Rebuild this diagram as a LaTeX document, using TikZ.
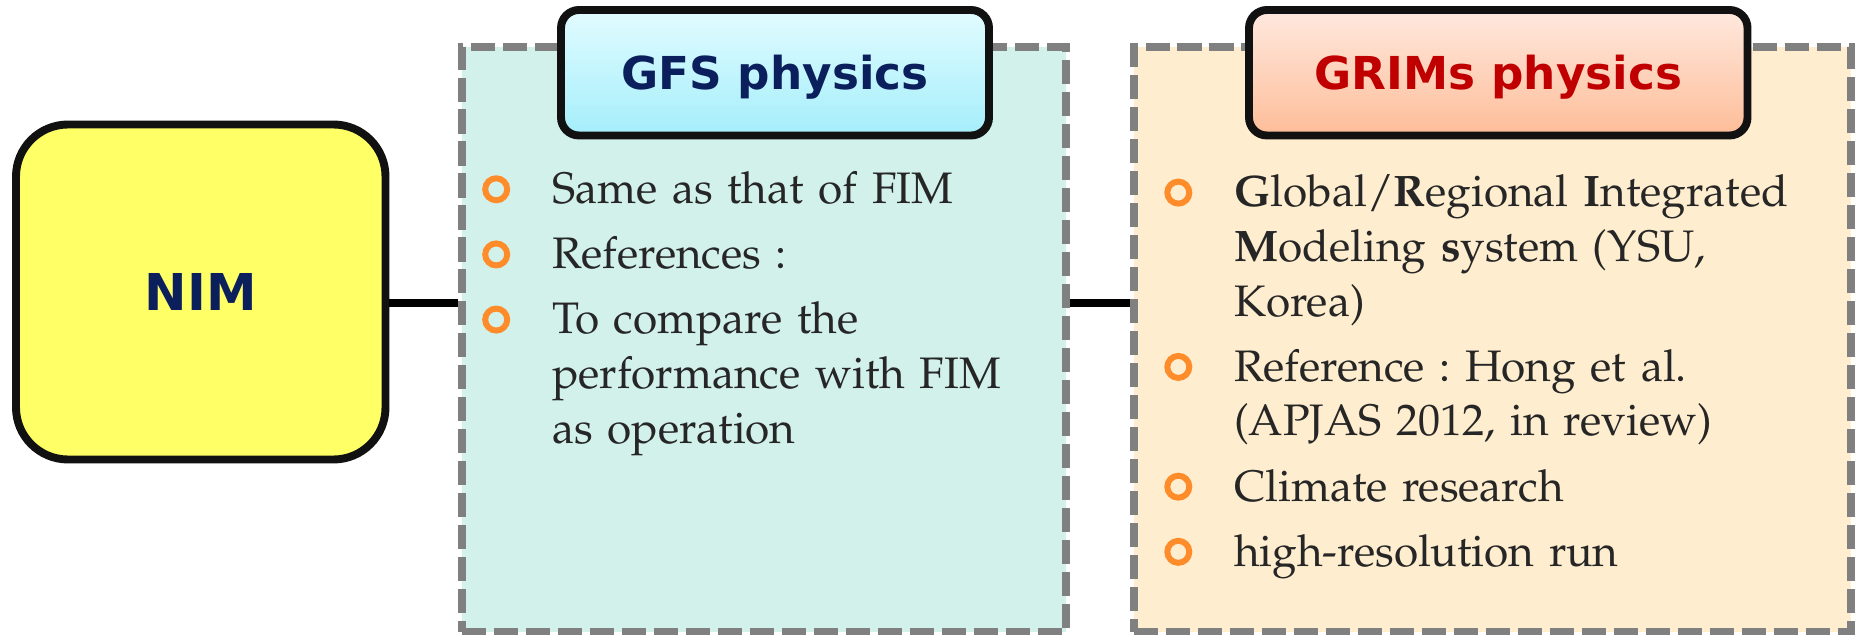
\documentclass[tikz,border=0pt]{standalone}
\usepackage{fontspec}
\usepackage[T1,TU]{fontenc}
\usetikzlibrary{positioning}
\newfontfamily\headfont{DejaVu Sans}
\newcommand\bodyfont{\fontencoding{T1}\fontfamily{ppl}\fontsize{25.1}{31.07}\selectfont\frenchspacing}

\definecolor{nimyellow}{HTML}{FFFF66}
\definecolor{headblue}{HTML}{0B1F5C}
\definecolor{headred}{HTML}{C00000}
\definecolor{gfsfill}{HTML}{D2F1EA}
\definecolor{grimsfill}{HTML}{FEEDCE}
\definecolor{dashgray}{HTML}{808080}
\definecolor{ringorange}{HTML}{FF8C2A}
\definecolor{bodygray}{HTML}{262626}
\definecolor{boxline}{HTML}{111111}
\definecolor{gfstop}{HTML}{E2FCFF}
\definecolor{gfsmid}{HTML}{92E3F7}
\definecolor{gfsbot}{HTML}{A4EEFB}
\definecolor{grimstop}{HTML}{FFE9DF}
\definecolor{grimsmid}{HTML}{FCAE80}
\definecolor{grimsbot}{HTML}{FDBD98}

\tikzset{
  modelbox/.style={draw=boxline, line width=4.5pt, rounded corners=1.04cm, fill=nimyellow,
    minimum width=7.39cm, minimum height=6.70cm, text=headblue,
    font=\headfont\bfseries\fontsize{28.9}{32}\selectfont, text height=21.1pt, text depth=0pt},
  physarea/.style={draw=dashgray, line width=4.2pt, dash pattern=on 13.7pt off 4.5pt,
    minimum height=11.69cm},
  headbox/.style={draw=boxline, line width=4.5pt, rounded corners=0.36cm, minimum height=2.51cm,
    font=\headfont\bfseries\fontsize{25.8}{30}\selectfont, text height=18.8pt, text depth=0pt},
  entry/.style={inner sep=0pt, anchor=north west, text width=12.2cm, align=left,
    font=\bodyfont, text=bodygray, execute at begin node=\strut, execute at end node=\strut},
  ringdot/.style={circle, draw=ringorange, line width=3.4pt, minimum size=0.44cm, inner sep=0pt},
  link/.style={line width=4.15pt, black}
}

\begin{document}
\begin{tikzpicture}
\useasboundingbox (0,0) rectangle (37.1,12.7);

\coordinate (mid) at (0,6.64);
\node[modelbox] (nim) at (4.015,6.86) {NIM};
\node[physarea, fill=gfsfill, minimum width=12.08cm] (gfsarea) at (15.28,5.915) {};
\node[physarea, fill=grimsfill, minimum width=14.34cm] (grimsarea) at (29.85,5.915) {};

\draw[link] (nim.east |- mid) -- (gfsarea.west |- mid);
\draw[link] (gfsarea.east |- mid) -- (grimsarea.west |- mid);

\node[headbox, minimum width=8.56cm, top color=gfstop, middle color=gfsmid, bottom color=gfsbot,
  text=headblue] (gfshead) at (15.5,11.245) {GFS physics};
\node[headbox, minimum width=9.97cm, top color=grimstop, middle color=grimsmid, bottom color=grimsbot,
  text=headred] (grimshead) at (29.965,11.245) {GRIMs physics};

% GFS items
\node[entry] (g1) at (11.034,9.398) {Same as that of FIM};
\node[entry, below=5.6pt of g1] (g2) {References :};
\node[entry, below=5.6pt of g2] (g3) {To compare the\\performance with FIM\\as operation};

% GRIMs items
\node[entry] (r1) at (24.676,9.332) {\textbf{G}lobal/\textbf{R}egional \textbf{I}ntegrated\\
  \textbf{M}odeling \textbf{s}ystem (YSU,\\Korea)};
\node[entry, below=5.6pt of r1] (r2) {Reference : Hong et al.\\(APJAS 2012, in review)};
\node[entry, below=5.6pt of r2] (r3) {Climate research};
\node[entry, below=5.6pt of r3] (r4) {high-resolution run};

\foreach \n in {g1,g2,g3,r1,r2,r3,r4}
  \node[ringdot] at ([shift={(-1.11,-0.484)}]\n.north west) {};
\end{tikzpicture}
\end{document}
